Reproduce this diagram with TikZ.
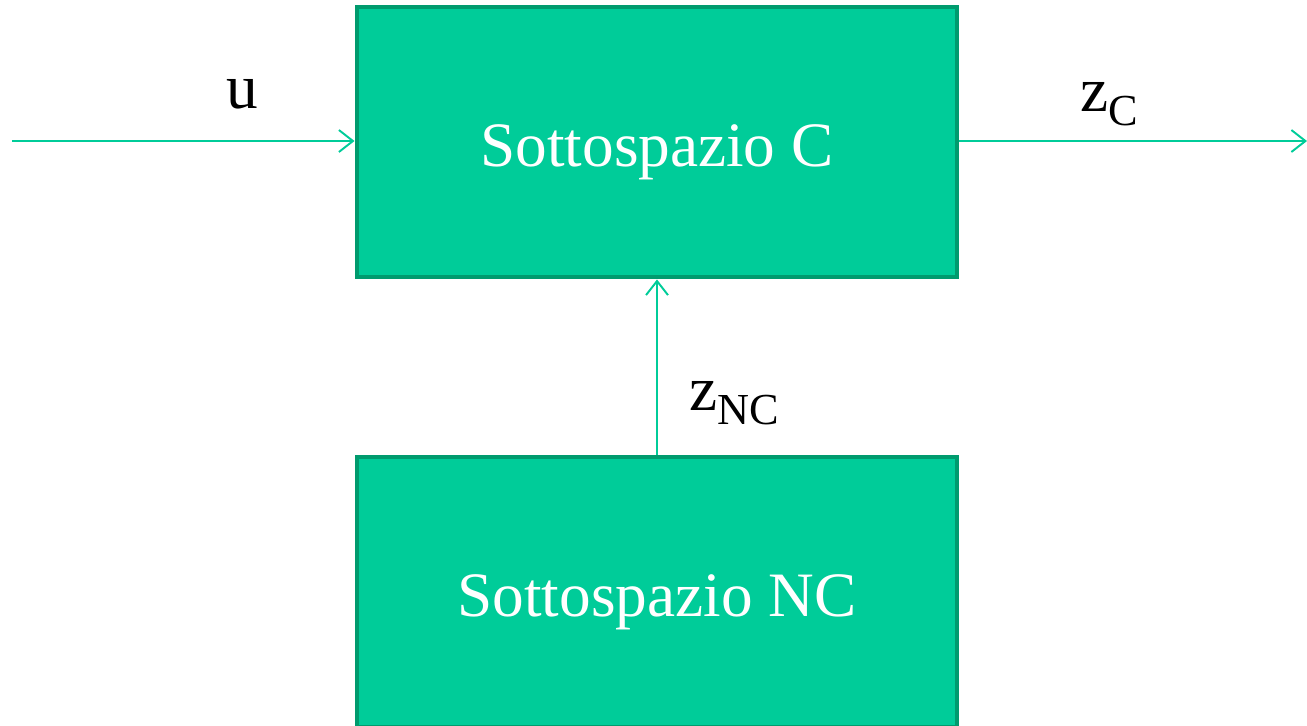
\documentclass[tikz,border=0pt]{standalone}
\usepackage{fontspec}
\setmainfont{Liberation Serif}
\usetikzlibrary{positioning}
\usetikzlibrary{arrows.meta}

\definecolor{boxfill}{HTML}{00CC99}
\definecolor{boxline}{HTML}{009B6E}

\tikzset{
	blocco/.style = {draw = boxline, fill = boxfill, line width = 2.8pt, minimum width = 600 * 0.02cm, minimum height = 270 * 0.02cm, inner sep = 0pt, text height = 28pt, text depth = 0pt, text = white, font = \fontsize{36}{40}\selectfont},
	freccia/.style = {boxfill, line width = 1.1pt, -{Straight Barb[length = 8pt, width = 12.5pt, line width = 1.1pt]}},
	etichetta/.style = {text = black, font = \fontsize{36}{40}\selectfont}
}

\begin{document}
\begin{tikzpicture}[x = 0.02cm, y = -0.02cm]
						\useasboundingbox (0, 0) rectangle (1307, 725);
						\node[blocco] (sottoC) at (657, 142) {Sottospazio C};
						\node[blocco] (sottoNC) at (657, 592) {Sottospazio NC};
						\coordinate (ingresso) at (12, 141);
						\coordinate (uscita) at (1307, 141);
						\draw[freccia] (ingresso) -- (ingresso -| sottoC.west);
						\draw[freccia] (sottoC.east |- ingresso) -- (uscita);
						\draw[freccia] (sottoNC.north) -- (sottoC.south);
						\node[etichetta] (u) at (242, 94) {u};
						\node[etichetta] (zC) at (1110, 104) {z\textsubscript{C}};
						\node[etichetta] (zNC) at (735, 403) {z\textsubscript{NC}};
					\end{tikzpicture}
\end{document}
